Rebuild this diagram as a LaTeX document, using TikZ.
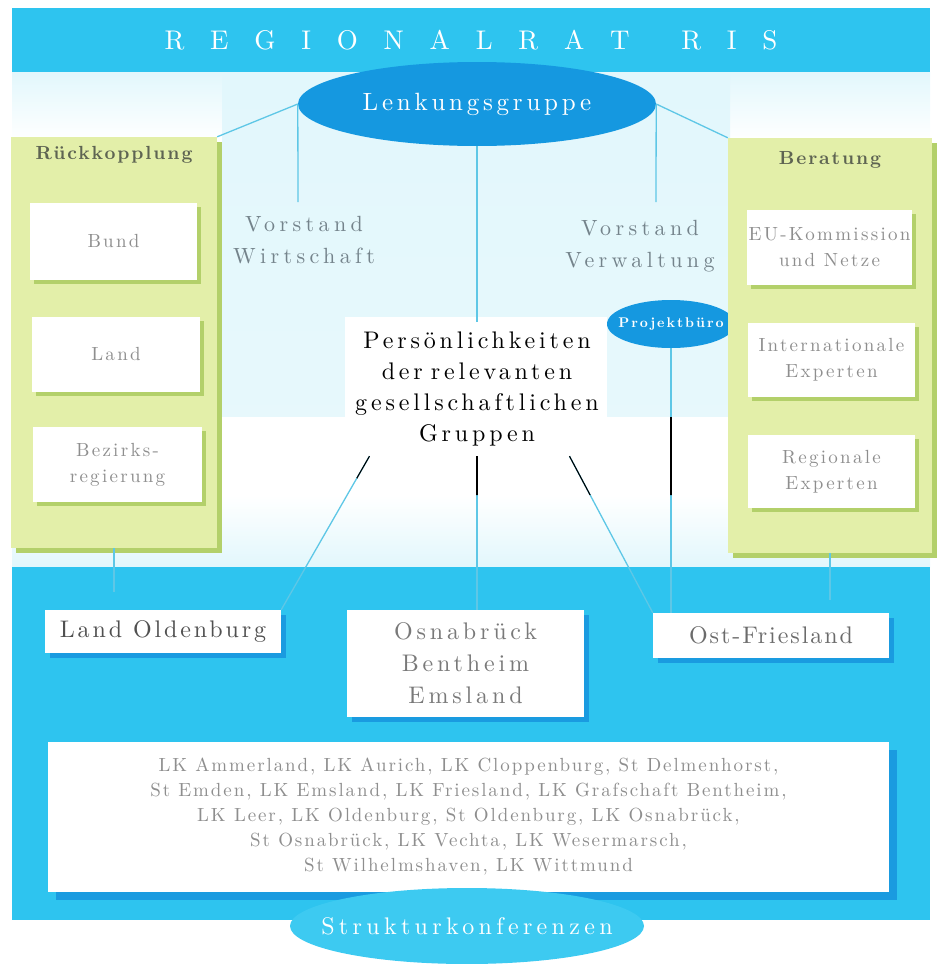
\documentclass[tikz,border=0pt]{standalone}
\usepackage{fontspec}
\setmainfont{lmroman10-regular.otf}[BoldFont=lmroman10-bold.otf, ItalicFont=lmroman10-italic.otf, BoldItalicFont=lmroman10-bolditalic.otf]
\usetikzlibrary{shapes.geometric,shadows}
\definecolor{riscyan}{HTML}{2EC4EF}
\definecolor{risblue}{HTML}{1598E0}
\definecolor{risdeep}{HTML}{1A9BE0}
\definecolor{rislight}{HTML}{E2F7FC}
\definecolor{risline}{HTML}{5EC7E6}
\definecolor{risgreen}{HTML}{E3EFA9}
\definecolor{risleaf}{HTML}{B3D06A}
\definecolor{risgray}{HTML}{8E8E8E}
\definecolor{risslate}{HTML}{74838B}
\definecolor{risdark}{HTML}{505050}
\definecolor{risolive}{HTML}{5E6452}
\definecolor{risstruk}{HTML}{3DCAF1}
\def\fsz#1#2{\fontsize{#1}{#2}\selectfont}
\def\spaced#1{\addfontfeatures{LetterSpace=#1}}
\tikzset{
  link/.style={risline, line width=1.3pt},
  cutlink/.style={black, line width=1.1pt},
  gshadow/.style={drop shadow={shadow xshift=#1, shadow yshift=-#1, fill=risleaf, opacity=1}},
  bshadow/.style={drop shadow={shadow xshift=#1, shadow yshift=-#1, fill=risdeep, opacity=1}},
  panel/.style={fill=risgreen, inner sep=0pt, gshadow=5pt},
  paneltitle/.style={text=risolive, font=\bfseries\fsz{19}{22}\spaced{10}},
  greenbox/.style={fill=white, inner sep=0pt, align=center, gshadow=4pt, text=risgray, font=\fsz{19}{26}\spaced{12}},
  bluebox/.style={fill=white, inner sep=0pt, align=center, bshadow=#1},
  vorstand/.style={align=center, text=risslate, font=\fsz{22}{32}\spaced{20}},
  oval/.style={ellipse, inner sep=0pt, text=white}
}
\begin{document}
\begin{tikzpicture}[x=1pt,y=-1pt]
\useasboundingbox (0,0) rectangle (939,964);
%%%%% BACKGROUND %%%%%
\shade[top color=rislight, bottom color=white] (12,72) rectangle (930,140);
\shade[top color=rislight, bottom color=rislight!80] (222,72) rectangle (730,500);
\fill[white] (345,317) rectangle (607,417);
\fill[white] (222,417) rectangle (730,495);
\shade[top color=white, bottom color=rislight] (12,495) rectangle (930,567);

%%%%% TOP %%%%%
\node[fill=riscyan, minimum width=918pt, minimum height=64pt, inner sep=0pt, text=white, font=\fsz{27}{30}] (banner) at (471,40)
  {\makebox[613pt][s]{R\hfill E\hfill G\hfill I\hfill O\hfill N\hfill A\hfill L\hfill R\hfill A\hfill T\hfill\hfill R\hfill I\hfill S}};
\node[oval, fill=risblue, minimum width=358pt, minimum height=84pt, font=\fsz{25}{30}\spaced{15}] (lenk) at (477,104) {Lenkungsgruppe};
\coordinate (wirtEnd) at (298,202);
\coordinate (verwEnd) at (656,202);

\node[vorstand] (wirt) at (304,240) {Vorstand\\Wirtschaft};
\node[vorstand] (verw) at (640,246) {Vorstand\\Verwaltung};
\node[oval, fill=risblue, minimum width=128pt, minimum height=48pt, inner xsep=-8pt, font=\bfseries\fsz{14}{16}\spaced{14}] (proj) at (671,324) {Projektbüro};
\node[text width=270pt, minimum height=134pt, align=center, inner sep=0pt, font=\fsz{24}{31.3}\spaced{16}] (pers) at (477,389)
  {Persönlichkeiten\\der relevanten\\gesellschaftlichen\\Gruppen};

%%%%% LEFT %%%%%
\node[panel, minimum width=206pt, minimum height=411pt] (rueckpanel) at (114,342.5) {};
\node[paneltitle] (rueckttl) at (114,155) {Rückkopplung};
\node[greenbox, minimum width=167pt, minimum height=77pt] (bund) at (113.5,241.5) {Bund};
\node[greenbox, minimum width=168pt, minimum height=75pt] (land) at (116,354.5) {Land};
\node[greenbox, minimum width=169pt, minimum height=75pt] (bezirk) at (117.5,464.5) {Bezirks-\\regierung};

%%%%% RIGHT %%%%%
\node[panel, minimum width=204pt, minimum height=415pt] (berpanel) at (830,345.5) {};
\node[paneltitle] (berttl) at (830,160) {Beratung};
\node[greenbox, minimum width=165pt, minimum height=75pt] (eukom) at (829.5,247.5) {EU-Kommission\\und Netze};
\node[greenbox, minimum width=167pt, minimum height=74pt] (intexp) at (831.5,360) {Internationale\\Experten};
\node[greenbox, minimum width=167pt, minimum height=73pt] (regexp) at (831.5,471.5) {Regionale\\Experten};

%%%%% BOTTOM %%%%%
\node[fill=riscyan, minimum width=918pt, minimum height=353pt, inner sep=0pt] (lower) at (471,743.5) {};
\node[bluebox=5pt, minimum width=236pt, minimum height=43pt, text=risdark, font=\fsz{24}{30}\spaced{12}] (oldb) at (163,631.5) {Land Oldenburg};
\node[bluebox=5pt, minimum width=237pt, minimum height=107pt, text=risgray!85!black, font=\fsz{24}{32}\spaced{16}] (osna) at (465.5,663.5) {Osnabrück\\Bentheim\\Emsland};
\node[bluebox=5pt, minimum width=236pt, minimum height=45pt, text=risgray!75!black, font=\fsz{24}{30}\spaced{8}] (ostf) at (771,635.5) {Ost-Friesland};
\node[bluebox=8pt, minimum width=841pt, minimum height=150pt, text=risgray, font=\fsz{19}{25}\spaced{10}] (lkbox) at (468.5,817)
  {LK Ammerland, LK Aurich, LK Cloppenburg, St Delmenhorst,\\
   St Emden, LK Emsland, LK Friesland, LK Grafschaft Bentheim,\\
   LK Leer, LK Oldenburg, St Oldenburg, LK Osnabrück,\\
   St Osnabrück, LK Vechta, LK Wesermarsch,\\
   St Wilhelmshaven, LK Wittmund};
\node[oval, fill=risstruk, minimum width=354pt, minimum height=76pt, inner xsep=-23pt, font=\fsz{24}{28}\spaced{18}] (struk) at (467,926) {Strukturkonferenzen};

%%%%% LINES %%%%%
\draw[link] (lenk.west) -- (wirtEnd);
\draw[link] (lenk.east) -- (verwEnd);
\draw[link] (lenk.west) -- (rueckpanel.north east);
\draw[link] (lenk.east) -- (berpanel.north west);
\draw[link] (lenk.south) -- (pers.north);
\draw[link] (pers.south) -- (pers.south |- osna.north);
\draw[link] (pers.212.5) -- (oldb.north east);
\draw[link] (pers.324) -- (ostf.north west);
\draw[link] (proj.south) -- (proj.south |- ostf.north);
\draw[link, shorten >=18pt] (rueckpanel.south) -- (rueckpanel.south |- oldb.north);
\draw[link, shorten >=13pt] (berpanel.south) -- (berpanel.south |- ostf.north);
\begin{scope}
  \clip (222,417) -- (730,417) -- (730,495) -- (357,495) -- (357,478) -- (222,478) -- cycle;
  \draw[cutlink] (pers.south) -- (pers.south |- osna.north);
  \draw[cutlink] (pers.212.5) -- (oldb.north east);
  \draw[cutlink] (pers.324) -- (ostf.north west);
  \draw[cutlink] (proj.south) -- (proj.south |- ostf.north);
\end{scope}
\end{tikzpicture}
\end{document}
